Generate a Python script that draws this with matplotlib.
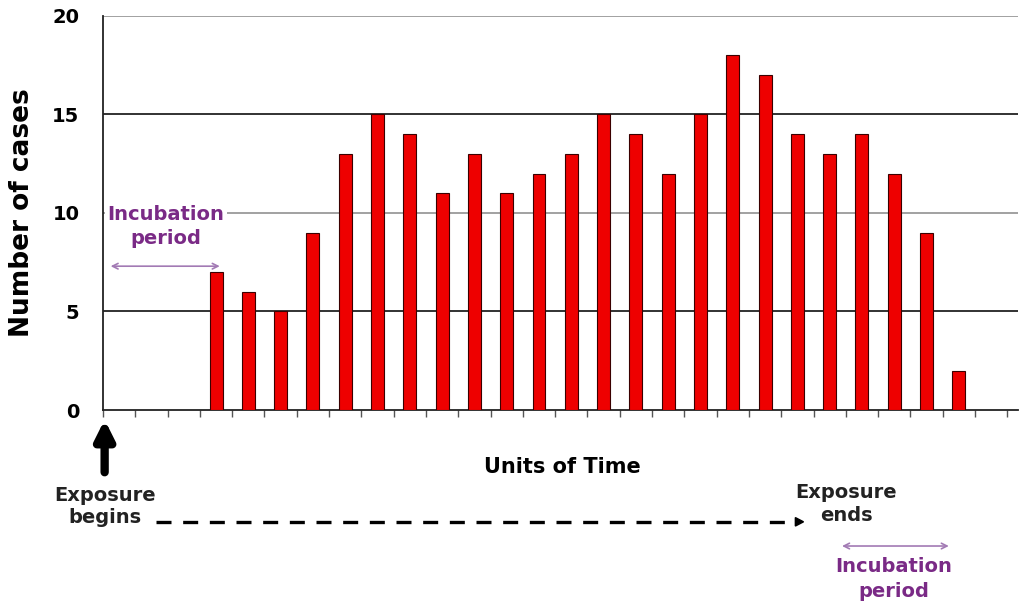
import matplotlib.pyplot as plt
import numpy as np

# time slots 0..28, cases per slot (first three and last two are empty)
slots = list(range(29))
cases = [0, 0, 0, 7, 6, 5, 9, 13, 15, 14, 11, 13, 11, 12, 13, 15, 14, 12,
         15, 18, 17, 14, 13, 14, 12, 9, 2, 0, 0]
y_ticks = [0, 5, 10, 15, 20]

purple = "#7a2a86"
purple_arrow = "#a27ab4"

fig = plt.figure(figsize=(10.21, 6.05), dpi=100)
ax = fig.add_axes([0.1009, 0.3223, 0.8961, 0.6513])

x = np.array(slots) + 0.5
vals = np.array(cases)
mask = vals > 0
ax.bar(x[mask], vals[mask], width=0.4, color="#ee0000",
       edgecolor="#3a0000", linewidth=0.8, zorder=3)

ax.set_xlim(0, 28.33)
ax.set_ylim(0, 20)

# horizontal gridlines, alternating dark / light as in the source
for v in y_ticks[1:]:
    col = "#9a9a9a" if v in (10, 20) else "#222222"
    ax.axhline(v, color=col, linewidth=1.3, zorder=1)

ax.spines["top"].set_visible(False)
ax.spines["right"].set_visible(False)
ax.spines["left"].set_color("#222222")
ax.spines["bottom"].set_color("#222222")
ax.spines["left"].set_linewidth(1.3)
ax.spines["bottom"].set_linewidth(1.3)

ax.set_yticks(y_ticks)
ax.set_yticklabels([str(v) for v in y_ticks], fontsize=14, fontweight="heavy")
ax.tick_params(axis="y", length=0, pad=17)
ax.set_xticks(slots)
ax.set_xticklabels([])
ax.tick_params(axis="x", length=5, width=1.0, color="#555555", direction="out")

ax.set_ylabel("Number of cases", fontsize=19, fontweight="bold", labelpad=12)

# incubation period, top-left
ax.annotate("", xy=(0.15, 7.3), xytext=(3.7, 7.3),
            arrowprops=dict(arrowstyle="<->", color=purple_arrow, lw=1.2))
ax.text(1.95, 9.3, "Incubation\nperiod", ha="center", va="center",
        fontsize=14, fontweight="bold", color=purple, linespacing=1.35,
        bbox=dict(facecolor="white", edgecolor="none", pad=2), zorder=4)

# exposure begins arrow
ax.annotate("", xy=(0.05, -0.35), xytext=(0.05, -3.3),
            xycoords="data", textcoords="data", annotation_clip=False,
            arrowprops=dict(arrowstyle="-|>,head_width=0.55,head_length=1.1",
                            color="black", lw=6))

fig.text(0.551, 0.228, "Units of Time", ha="center", va="center",
         fontsize=15, fontweight="bold")

fig.text(0.103, 0.163, "Exposure\nbegins", ha="center", va="center",
         fontsize=14, fontweight="bold", color="#222222", linespacing=1.25)
fig.text(0.829, 0.167, "Exposure\nends", ha="center", va="center",
         fontsize=14, fontweight="bold", color="#222222", linespacing=1.25)

# dashed line from exposure begin to exposure end
fig.add_artist(plt.Line2D([0.153, 0.776], [0.1375, 0.1375], color="black",
                          lw=2.4, linestyle=(0, (4.5, 3.5))))
fig.patches.append(plt.Polygon([[0.779, 0.1305], [0.787, 0.1375], [0.779, 0.1445]],
                               closed=True, color="black", transform=fig.transFigure))

# incubation period, bottom-right
ax.annotate("", xy=(0.822, 0.0975), xytext=(0.932, 0.0975),
            xycoords="figure fraction", textcoords="figure fraction",
            annotation_clip=False,
            arrowprops=dict(arrowstyle="<->", color=purple_arrow, lw=1.2))
fig.text(0.875, 0.043, "Incubation\nperiod", ha="center", va="center",
         fontsize=14, fontweight="bold", color=purple, linespacing=1.35)

fig.savefig("out.png", dpi=100)
